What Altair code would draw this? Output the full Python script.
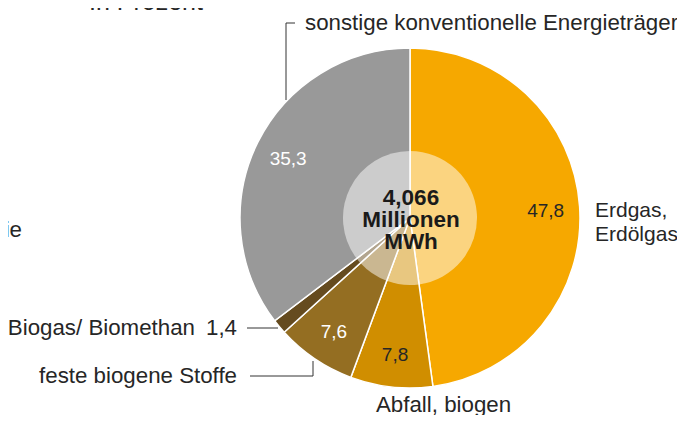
import altair as alt
import pandas as pd

categories = ["Erdgas, Erdölgas", "Abfall, biogen", "feste biogene Stoffe",
              "Biogas/ Biomethan", "sonstige konventionelle Energieträger"]
values = [47.8, 7.8, 7.6, 1.4, 35.3]
colors = ["#F6A800", "#D08E00", "#946E22", "#654B1F", "#999999"]
inside_white = [False, False, True, False, True]
inside_shown = [True, True, True, False, True]
center_lines = ["4,066", "Millionen", "MWh"]
title_text = "In Prozent"
left_cut_text = "Windenergie"

labels = [f"{v:.1f}".replace(".", ",") for v in values]
df = pd.DataFrame({
    "idx": list(range(len(values))),
    "cat": categories,
    "value": values,
    "label": labels,
    "white_label": [l if (s and w) else "" for l, s, w in zip(labels, inside_shown, inside_white)],
    "dark_label": [l if (s and not w) else "" for l, s, w in zip(labels, inside_shown, inside_white)],
})
one = pd.DataFrame({"k": [0]})

CX, CY = 402, 210
FONT = "Liberation Sans"
FS = 22.3
TXT = "#262626"

base = alt.Chart(df).encode(
    theta=alt.Theta("value:Q", stack=True),
    order=alt.Order("idx:Q"),
)

arcs = base.mark_arc(outerRadius=170, stroke="white", strokeWidth=1.5).encode(
    x=alt.value(CX), y=alt.value(CY),
    color=alt.Color("cat:N", scale=alt.Scale(domain=categories, range=colors), legend=None),
)

inner = base.mark_arc(outerRadius=67, color="white", opacity=0.5, strokeWidth=0).encode(
    x=alt.value(CX), y=alt.value(CY),
)

white_txt = base.mark_text(radius=136, font=FONT, fontSize=19, color="white", dy=1).encode(
    x=alt.value(CX), y=alt.value(CY), text="white_label:N",
)
dark_txt = base.mark_text(radius=136, font=FONT, fontSize=19, color=TXT, dy=2).encode(
    x=alt.value(CX), y=alt.value(CY), text="dark_label:N",
)

center = alt.Chart(one).mark_text(
    font=FONT, fontSize=22.5, fontWeight="bold", color="#1a1a1a", lineHeight=22,
    baseline="middle", align="center"
).encode(x=alt.value(CX + 1), y=alt.value(CY - 20.5), text=alt.value(center_lines))


def label(txt, x, y, align="left", size=FS, color=TXT, lh=23.5):
    return alt.Chart(one).mark_text(
        font=FONT, fontSize=size, color=color, align=align, baseline="middle",
        lineHeight=lh
    ).encode(x=alt.value(x), y=alt.value(y), text=alt.value(txt))


def seg(x1, y1, x2, y2):
    return alt.Chart(one).mark_rule(color="#333333", strokeWidth=1).encode(
        x=alt.value(x1), y=alt.value(y1), x2=alt.value(x2), y2=alt.value(y2)
    )


ext = [
    label(categories[4], 297, 15),
    label(["Erdgas,", "Erdölgas"], 587, 203, size=21),
    label(categories[1], 368, 397),
    label(categories[3], 187, 320, align="right"),
    label(labels[3], 229, 320, align="right"),
    label(categories[2], 229, 368, align="right"),
    label(left_cut_text, 14, 222, align="right"),
    alt.Chart(one).mark_text(font=FONT, fontSize=25, color=TXT, align="left",
                             baseline="alphabetic").encode(
        x=alt.value(81), y=alt.value(1.5), text=alt.value(title_text)),
    seg(287, 15, 278, 15),
    seg(278, 15, 278, 92),
    seg(239, 320, 270, 320),
    seg(242, 368, 305, 368),
    seg(305, 368, 305, 353),
]

chart = alt.layer(arcs, inner, white_txt, dark_txt, center, *ext).properties(
    width=669, height=407, padding=0,
    autosize=alt.AutoSizeParams(type="none"),
).configure_view(stroke=None)

chart.save("out.html", embed_options={"renderer": "svg", "actions": False})
